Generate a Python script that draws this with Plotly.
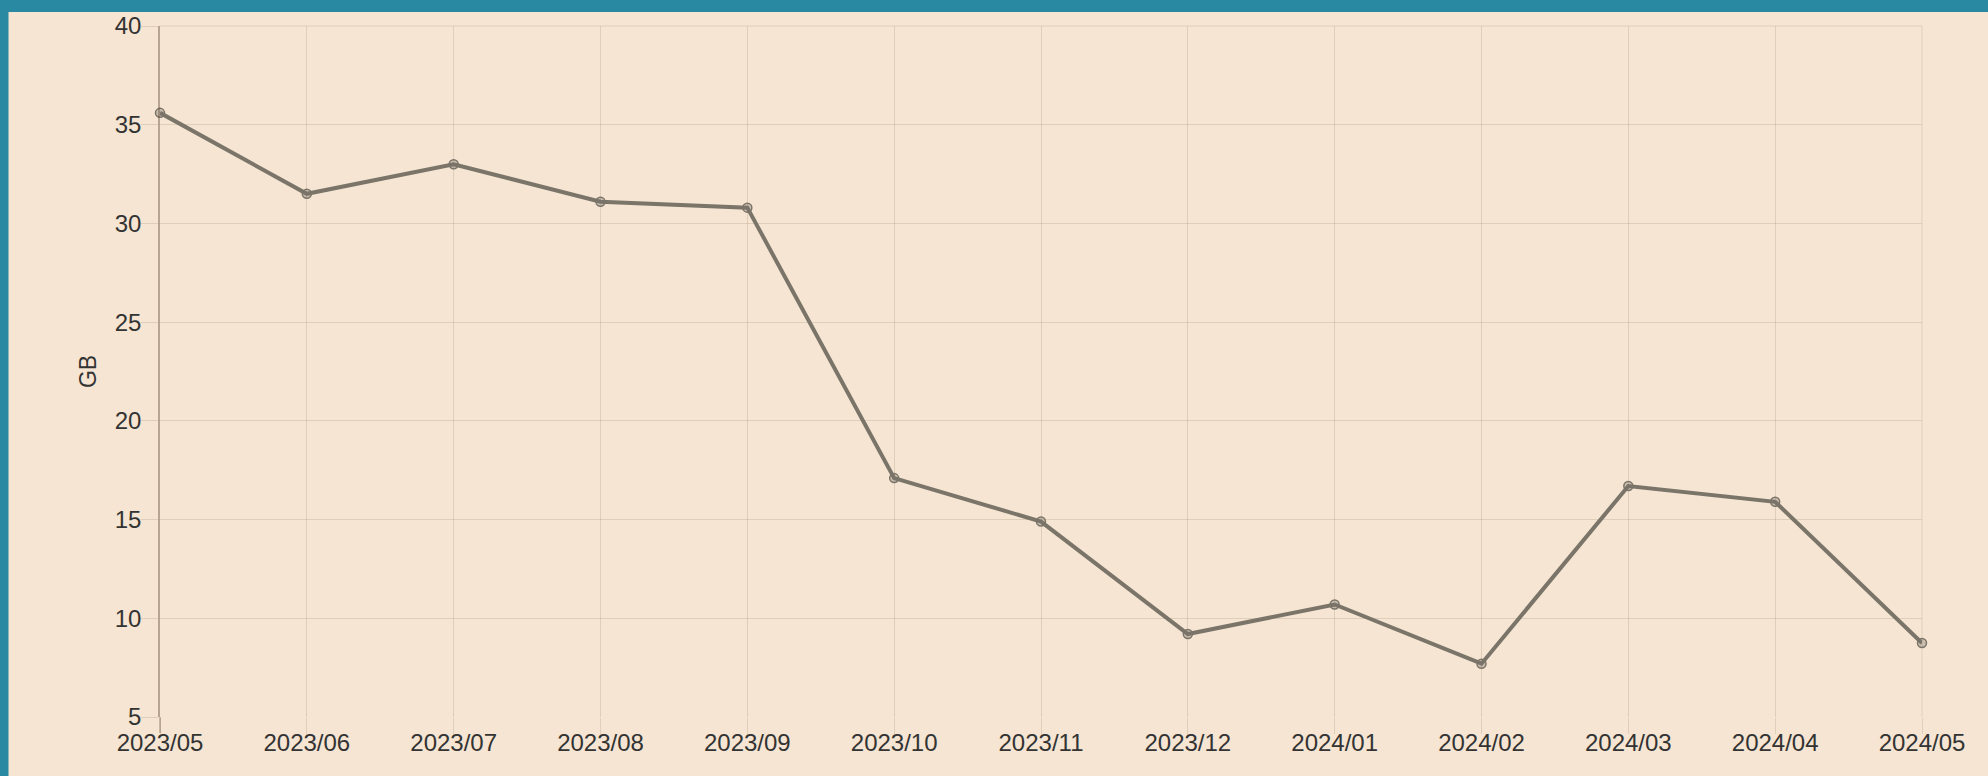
import plotly.graph_objects as go

months = ["2023/05", "2023/06", "2023/07", "2023/08", "2023/09", "2023/10", "2023/11",
          "2023/12", "2024/01", "2024/02", "2024/03", "2024/04", "2024/05"]
usage_gb = [35.6, 31.5, 33.0, 31.1, 30.8, 17.1, 14.9, 9.2, 10.7, 7.7, 16.7, 15.9, 8.75]
y_ticks = [5, 10, 15, 20, 25, 30, 35, 40]

W, H = 1988, 776
ML, MR, MT, MB = 160, 66, 24, 59
PW, PH = W - ML - MR, H - MT - MB

BG = "#F5E5D2"
TEAL = "#2A89A2"
LINE = "#7A7469"
GRID = "rgba(120,95,70,0.17)"
AXIS = "rgba(90,70,50,0.4)"
FONT = "Liberation Sans, Arial, sans-serif"
TXT = "#333333"

fig = go.Figure()
fig.add_trace(go.Scatter(
    x=months, y=usage_gb, mode="lines+markers",
    line=dict(color=LINE, width=4),
    marker=dict(size=9, color="rgba(122,116,105,0.35)", line=dict(color=LINE, width=1.5)),
    cliponaxis=False, showlegend=False,
))

# teal frame bands (top and left)
fig.add_shape(type="rect", xref="paper", yref="paper", layer="below",
              x0=-ML / PW - 0.01, x1=1 + MR / PW + 0.01,
              y0=1 + (MT - 10) / PH, y1=1 + MT / PH + 0.01,
              fillcolor=TEAL, line=dict(width=0))
fig.add_shape(type="rect", xref="paper", yref="paper", layer="below",
              x0=-ML / PW - 0.01, x1=(8.5 - ML) / PW,
              y0=-MB / PH - 0.01, y1=1 + MT / PH + 0.01,
              fillcolor=TEAL, line=dict(width=0))

fig.update_layout(
    width=W, height=H,
    margin=dict(l=ML, r=MR, t=MT, b=MB, pad=0),
    paper_bgcolor=BG, plot_bgcolor=BG,
    font=dict(family=FONT, size=24, color=TXT),
    xaxis=dict(
        type="category", range=[0, len(months) - 1],
        showgrid=True, gridcolor=GRID, gridwidth=1,
        ticks="outside", ticklen=16, tickcolor=GRID, tickwidth=1,
        showline=False, zeroline=False,
        ticklabelstandoff=-12,
        tickfont=dict(size=24, color=TXT),
    ),
    yaxis=dict(
        range=[5, 40], tickvals=y_ticks,
        showgrid=True, gridcolor=GRID, gridwidth=1,
        ticks="outside", ticklen=17, tickcolor=GRID, tickwidth=1,
        showline=True, linecolor=AXIS, linewidth=1.5,
        zeroline=False,
        ticklabelstandoff=-5,
        title=dict(text="GB", font=dict(size=23, color=TXT), standoff=12),
        tickfont=dict(size=24, color=TXT),
    ),
)
# right and top border lines of plot area
fig.add_shape(type="line", xref="paper", yref="paper", x0=1, x1=1, y0=0, y1=1,
              line=dict(color=GRID, width=1), layer="below")
fig.add_shape(type="line", xref="paper", yref="paper", x0=0, x1=1, y0=1, y1=1,
              line=dict(color=GRID, width=1), layer="below")
# y axis line continues through the first x tick
fig.add_shape(type="line", xref="paper", yref="paper", x0=0, x1=0, y0=-16 / PH, y1=0,
              line=dict(color=AXIS, width=1.5))

fig.write_html("out.html", config={"displayModeBar": False},
               post_script="document.body.style.margin='0';document.body.style.overflow='hidden';")
